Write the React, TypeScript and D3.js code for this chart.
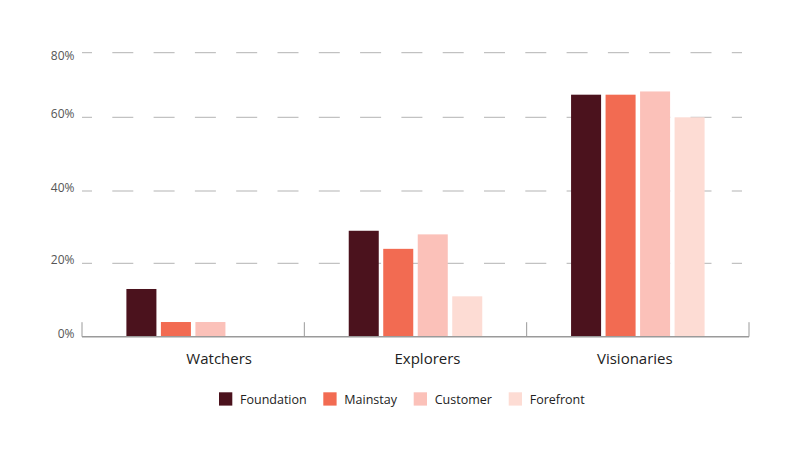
import React from "react";
import * as d3 from "d3";

const categories = ["Watchers", "Explorers", "Visionaries"];
const seriesNames = ["Foundation", "Mainstay", "Customer", "Forefront"];
const foundation = [13, 29, 67];
const mainstay = [4, 24, 67];
const customer = [4, 28, 68];
const forefront = [0, 11, 60];
const yTicks = [0, 20, 40, 60, 80];
const yTickLabels = ["0%", "20%", "40%", "60%", "80%"];

const colors = ["#4b121d", "#f26b52", "#fbc1b9", "#fddcd4"];
const seriesValues = [foundation, mainstay, customer, forefront];

const W = 800;
const H = 457;
const FONT = "'Open Sans', 'Noto Sans', sans-serif";

export default function App() {
  const x0 = d3.scaleBand<string>().domain(categories).range([82, 749]);
  const bw = x0.bandwidth();
  const groupPad = 44.4;
  const x1 = d3
    .scaleBand<string>()
    .domain(seriesNames)
    .range([groupPad, bw - groupPad])
    .paddingInner(0.13);
  const y = d3
    .scaleLinear()
    .domain([0, 20, 40, 60, 80])
    .range([336.7, 263.3, 191, 117.3, 52.7]);

  const labelDx = [26, 12, -3];
  const left = 82;
  const gridRight = 742;

  return (
    <svg
      width={W}
      height={H}
      style={{ position: "absolute", left: 0, top: 0, background: "#fff" }}
      fontFamily={FONT}
    >
      {/* gridlines */}
      {yTicks.slice(1).map((t) => (
        <line
          key={t}
          x1={left}
          x2={gridRight}
          y1={y(t)}
          y2={y(t)}
          stroke="#b3b3b3"
          strokeWidth={1}
          strokeDasharray="21 20.3"
          strokeDashoffset={11}
        />
      ))}
      {/* y labels */}
      {yTicks.map((t, i) => (
        <text
          key={t}
          x={74.5}
          y={t === 80 ? y(t) + 2.5 : y(t) - 3.5}
          textAnchor="end"
          dominantBaseline="central"
          fontSize={12}
          fill="#555"
        >
          {yTickLabels[i]}
        </text>
      ))}
      {/* bars */}
      {categories.map((c, ci) => (
        <g key={c} transform={`translate(${x0(c)},0)`}>
          {seriesNames.map((s, si) => {
            const v = seriesValues[si][ci];
            if (!v) return null;
            return (
              <rect
                key={s}
                x={x1(s)}
                y={y(v)}
                width={x1.bandwidth()}
                height={y(0) - y(v)}
                fill={colors[si]}
              />
            );
          })}
        </g>
      ))}
      {/* baseline */}
      <line x1={left} x2={749} y1={y(0)} y2={y(0)} stroke="#9a9a9a" strokeWidth={1.5} />
      {[...categories.map((c) => x0(c) as number), 749].map((xv, i) => (
        <line
          key={i}
          x1={xv}
          x2={xv}
          y1={y(0)}
          y2={y(0) - 14.5}
          stroke="#9a9a9a"
          strokeWidth={1}
        />
      ))}
      {/* category labels */}
      {categories.map((c, ci) => (
        <text
          key={c}
          x={(x0(c) as number) + bw / 2 + labelDx[ci]}
          y={364}
          textAnchor="middle"
          fontSize={15}
          fill="#222"
        >
          {c}
        </text>
      ))}
      {/* legend */}
      {seriesNames.map((s, si) => {
        const lx = [219, 323.3, 413.7, 508.7][si];
        return (
          <g key={s}>
            <rect x={lx} y={392.3} width={13.3} height={13.3} fill={colors[si]} />
            <text x={lx + 21} y={399} dominantBaseline="central" fontSize={12.5} fill="#222">
              {s}
            </text>
          </g>
        );
      })}
    </svg>
  );
}
